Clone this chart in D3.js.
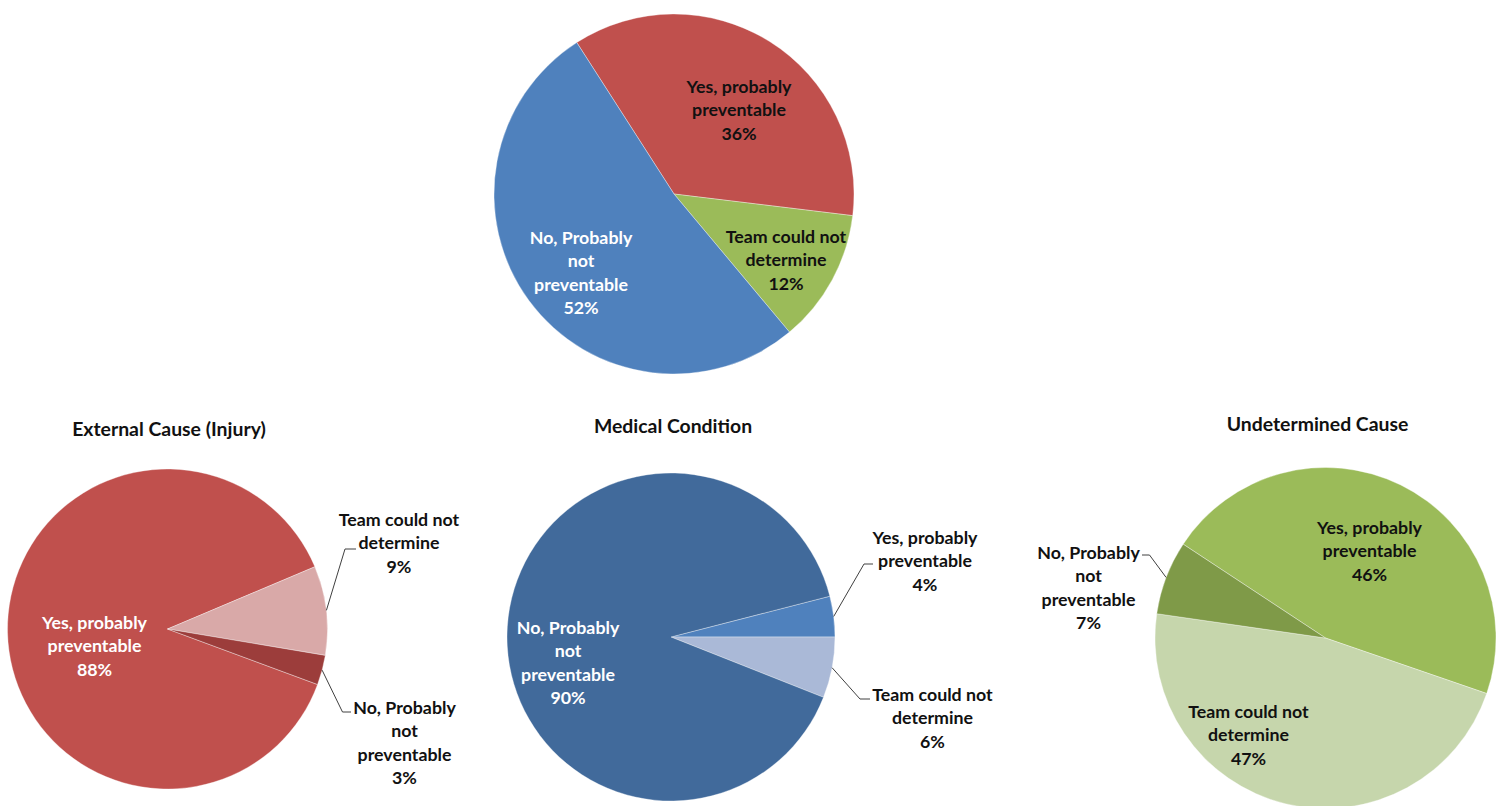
<!DOCTYPE html>
<html>
<head>
<meta charset="utf-8">
<script src="https://cdn.jsdelivr.net/npm/d3@7"></script>
<style>
  html, body { margin: 0; padding: 0; background: #fff; }
  svg { display: block; }
  text { font-family: Lato, "Open Sans", sans-serif; font-weight: bold; }
</style>
</head>
<body>
<svg id="chart" width="1503" height="806"></svg>
<script>
// ---- data ----
const categories = ["Yes, probably preventable", "Team could not determine", "No, Probably not preventable"];
const categoryLines = [["Yes, probably", "preventable"], ["Team could not", "determine"], ["No, Probably", "not", "preventable"]];
const pieTitles = ["", "External Cause (Injury)", "Medical Condition", "Undetermined Cause"];
const overallValues = [36, 12, 52];
const externalValues = [88, 9, 3];
const medicalValues = [4, 6, 90];
const undeterminedValues = [46, 47, 7];

// ---- layout / styles ----
const pies = [
  { values: overallValues, title: pieTitles[0], cx: 674, cy: 194, r: 180, start: -32.7,
    colors: ["#C0504D", "#9BBB59", "#4F81BD"],
    textColors: ["#111", "#111", "#fff"],
    labels: [ {x: 65, y: -108}, {x: 112, y: 42}, {x: -93, y: 43} ] },
  { values: externalValues, title: pieTitles[1], cx: 167.5, cy: 629, r: 160, start: 110.3,
    titleX: 169, titleY: 428,
    colors: ["#C0504D", "#D9A9A8", "#9C3D3B"],
    textColors: ["#fff", "#111", "#111"],
    labels: [ {x: -73, y: -7}, {x: 231.5, y: -110, elbow: {x: 177.5, y: -80, hx: 188.5}},
              {x: 237, y: 78, elbow: {x: 175, y: 83, hx: 183.5}} ] },
  { values: medicalValues, title: pieTitles[2], cx: 671, cy: 637, r: 164, start: 75.6,
    titleX: 673, titleY: 425,
    colors: ["#4F81BD", "#AAB9D7", "#416A9B"],
    textColors: ["#111", "#111", "#fff"],
    labels: [ {x: 254, y: -100, elbow: {x: 193, y: -73, hx: 202}},
              {x: 261.5, y: 57, elbow: {x: 189, y: 62, hx: 199}},
              {x: -103, y: -10} ] },
  { values: undeterminedValues, title: pieTitles[3], cx: 1325.5, cy: 638, r: 170.5, start: -56.6,
    titleX: 1317.5, titleY: 423,
    colors: ["#9BBB59", "#C6D6AC", "#7F9A48"],
    textColors: ["#111", "#111", "#111"],
    labels: [ {x: 44, y: -111}, {x: -77, y: 73},
              {x: -237, y: -86, elbow: {x: -176, y: -83, hx: -183.5}} ] }
];

const svg = d3.select("#chart");
const fontSize = 17.8;
const titleSize = 19.4;
const lineH = 23.4;
const deg = Math.PI / 180;

pies.forEach(p => {
  const g = svg.append("g").attr("transform", `translate(${p.cx},${p.cy})`);
  const pie = d3.pie().sort(null).value(d => d)
    .startAngle(p.start * deg).endAngle(p.start * deg + 2 * Math.PI);
  const arcs = pie(p.values);
  const arc = d3.arc().innerRadius(0).outerRadius(p.r);

  g.selectAll("path.slice").data(arcs).join("path")
    .attr("class", "slice")
    .attr("d", arc)
    .attr("fill", (d, i) => p.colors[i])
    .attr("stroke", "rgba(255,255,255,0.5)")
    .attr("stroke-width", 0.7);

  if (p.title) {
    svg.append("text")
      .attr("x", p.titleX).attr("y", p.titleY)
      .attr("text-anchor", "middle").attr("dominant-baseline", "central")
      .attr("font-size", titleSize).attr("fill", "#111")
      .text(p.title);
  }

  arcs.forEach((a, i) => {
    const L = p.labels[i];
    const lines = categoryLines[i].concat([d3.format(".0f")(a.value) + "%"]);
    const t = g.append("text")
      .attr("text-anchor", "middle")
      .attr("font-size", fontSize)
      .attr("fill", p.textColors[i]);
    lines.forEach((s, k) => {
      t.append("tspan").attr("x", L.x).attr("y", L.y + k * lineH)
        .attr("dominant-baseline", "central").text(s);
    });
    if (L.elbow) {
      const mid = (a.startAngle + a.endAngle) / 2;
      const sx = Math.sin(mid) * p.r, sy = -Math.cos(mid) * p.r;
      g.append("path")
        .attr("d", d3.line()([[sx, sy], [L.elbow.x, L.elbow.y], [L.elbow.hx, L.elbow.y]]))
        .attr("fill", "none").attr("stroke", "#404040").attr("stroke-width", 1);
    }
  });
});
</script>
</body>
</html>
